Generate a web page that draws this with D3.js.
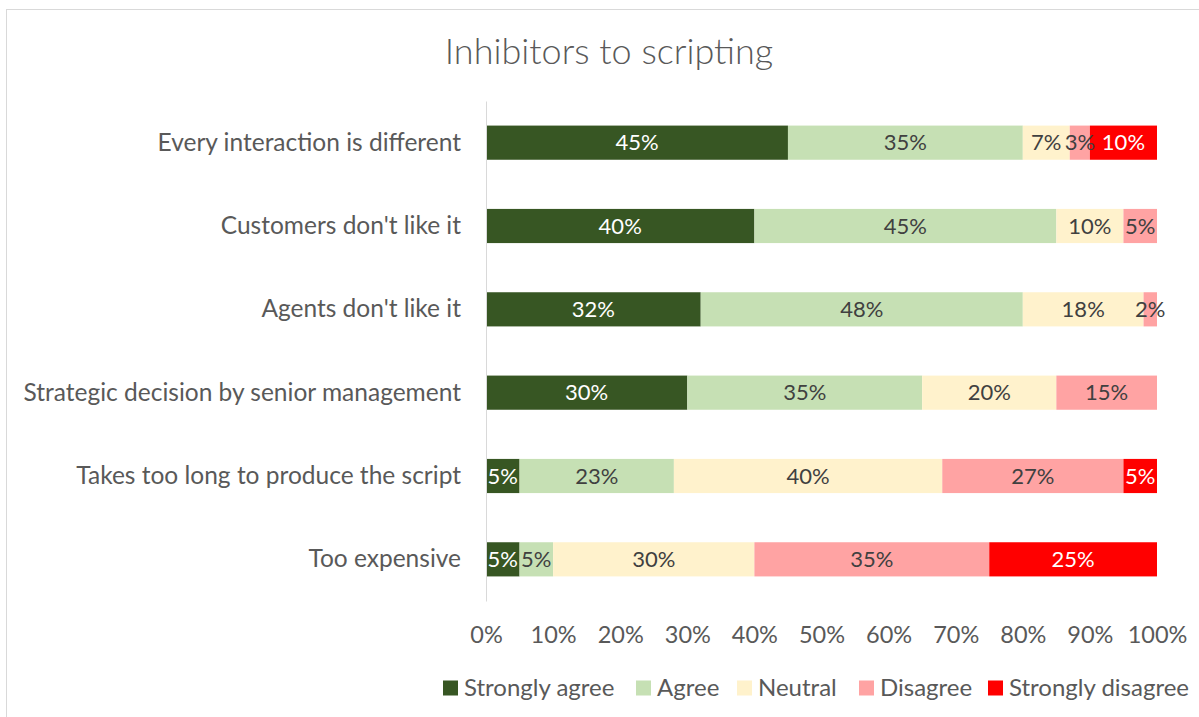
<!DOCTYPE html>
<html>
<head>
<meta charset="utf-8">
<script src="https://cdn.jsdelivr.net/npm/d3@7"></script>
<style>
  html, body { margin: 0; padding: 0; background: #fff; }
  svg { display: block; font-family: Lato, "Open Sans", sans-serif; }
</style>
</head>
<body>
<script>
// Survey responses, percent of respondents per answer
const categories = [
  "Every interaction is different",
  "Customers don't like it",
  "Agents don't like it",
  "Strategic decision by senior management",
  "Takes too long to produce the script",
  "Too expensive"
];
const seriesNames = ["Strongly agree", "Agree", "Neutral", "Disagree", "Strongly disagree"];
const stronglyAgree    = [45, 40, 32, 30, 5, 5];
const agree            = [35, 45, 48, 35, 23, 5];
const neutral          = [7, 10, 18, 20, 40, 30];
const disagree         = [3, 5, 2, 15, 27, 35];
const stronglyDisagree = [10, 0, 0, 0, 5, 25];
const tickValues = [0, 10, 20, 30, 40, 50, 60, 70, 80, 90, 100];

const seriesValues = [stronglyAgree, agree, neutral, disagree, stronglyDisagree];
const colors = ["#375623", "#C6E0B4", "#FFF2CC", "#FFA3A3", "#FF0000"];
const labelColors = ["#ffffff", "#404040", "#404040", "#404040", "#ffffff"];

const W = 1199, H = 717;
const margin = { left: 486, right: 42, top: 101, bottom: 116 };
const FONT = "Lato, 'Open Sans', sans-serif";

const svg = d3.select("body").append("svg").attr("width", W).attr("height", H);

// chart frame
svg.append("rect")
  .attr("x", 6.5).attr("y", 9.5)
  .attr("width", W + 10).attr("height", H + 10)
  .attr("fill", "#fff").attr("stroke", "#d9d9d9").attr("stroke-width", 1);

svg.append("text")
  .attr("x", 609).attr("y", 64)
  .attr("text-anchor", "middle")
  .attr("font-size", 36)
  .attr("font-weight", 300)
  .attr("fill", "#595959")
  .text("Inhibitors to scripting");

const x = d3.scaleLinear().domain([0, 100]).range([margin.left, W - margin.right]);
const y = d3.scaleBand().domain(categories).range([margin.top, H - margin.bottom]).paddingInner(0.59).paddingOuter(0.295);

// build stacked rows
const rows = categories.map((c, i) => {
  const r = { category: c };
  seriesNames.forEach((s, k) => { r[s] = seriesValues[k][i]; });
  return r;
});
const stacked = d3.stack().keys(seriesNames)(rows);

const g = svg.append("g");
stacked.forEach((layer, k) => {
  g.append("g").selectAll("rect").data(layer).join("rect")
    .attr("x", d => x(d[0]))
    .attr("y", d => y(d.data.category))
    .attr("width", d => x(d[1]) - x(d[0]))
    .attr("height", y.bandwidth())
    .attr("fill", colors[k]);
});

// value labels
stacked.forEach((layer, k) => {
  g.append("g").selectAll("text").data(layer.filter(d => d[1] - d[0] > 0)).join("text")
    .attr("x", d => (x(d[0]) + x(d[1])) / 2)
    .attr("y", d => y(d.data.category) + y.bandwidth() / 2)
    .attr("dy", "0.35em")
    .attr("text-anchor", "middle")
    .attr("font-size", 22)
    .attr("fill", labelColors[k])
    .text(d => (d[1] - d[0]) + "%");
});

// category axis
const yAxis = svg.append("g")
  .attr("transform", `translate(${margin.left},0)`)
  .call(d3.axisLeft(y).tickSize(0).tickPadding(25));
yAxis.select(".domain").attr("stroke", "#d9d9d9");
yAxis.selectAll("text").attr("font-size", 24.5).attr("fill", "#595959").attr("font-family", FONT);

// percent axis
const xAxis = svg.append("g")
  .attr("transform", `translate(0,${H - margin.bottom})`)
  .call(d3.axisBottom(x).tickValues(tickValues).tickSize(0).tickPadding(25).tickFormat(d => d + "%"));
xAxis.select(".domain").remove();
xAxis.selectAll("text").attr("font-size", 23.5).attr("fill", "#595959").attr("font-family", FONT);

// legend
const legendX = [443, 636, 737, 859, 988];
const legend = svg.append("g");
seriesNames.forEach((s, k) => {
  const lg = legend.append("g").attr("transform", `translate(${legendX[k]},688)`);
  lg.append("rect").attr("x", 0).attr("y", -7.5).attr("width", 15).attr("height", 15).attr("fill", colors[k]);
  lg.append("text").attr("x", 21).attr("y", 0).attr("dy", "0.35em")
    .attr("font-size", 24).attr("fill", "#595959").text(s);
});
</script>
</body>
</html>
